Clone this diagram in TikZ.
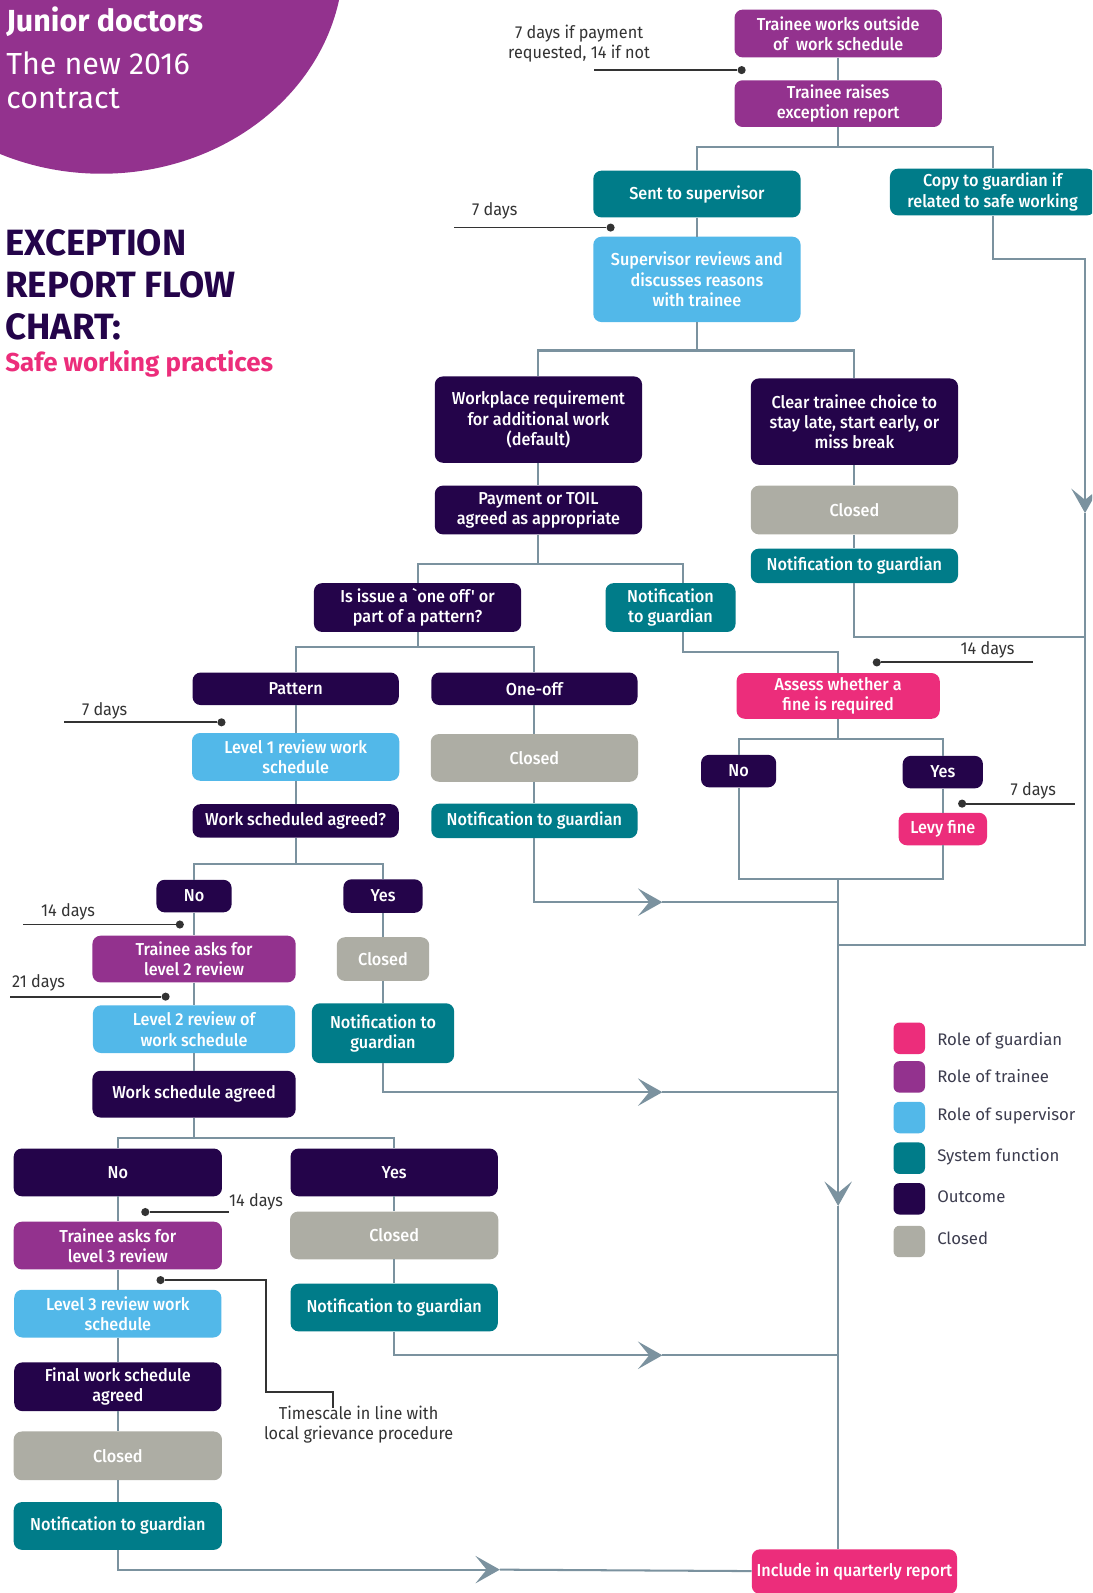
\documentclass[tikz,border=0pt]{standalone}
\usepackage{fontspec}
\setmainfont{Fira Sans}
\newfontfamily\flowfont{Fira Sans}[FakeStretch=0.94, UprightFont={* Medium}]
\newfontfamily\notefont{Fira Sans}[FakeStretch=0.94]
\usetikzlibrary{arrows.meta}

\definecolor{traineecol}{HTML}{93328E}
\definecolor{guardcol}{HTML}{EC2D7B}
\definecolor{supcol}{HTML}{52B8E9}
\definecolor{syscol}{HTML}{007C89}
\definecolor{outcol}{HTML}{24044A}
\definecolor{closedcol}{HTML}{ADADA4}
\definecolor{linkcol}{HTML}{7B929F}
\definecolor{notecol}{HTML}{333333}
\definecolor{legendcol}{HTML}{3D3D4F}

\begin{document}
\begin{tikzpicture}[x=1pt, y=-1pt,
  box/.style={rounded corners=8pt, minimum width=204pt, minimum height=47pt,
    inner sep=1pt, align=center, text=white, font=\flowfont\fontsize{17}{20}\selectfont},
  traineebox/.style={box, fill=traineecol},
  guardbox/.style={box, fill=guardcol},
  supbox/.style={box, fill=supcol},
  sysbox/.style={box, fill=syscol},
  outbox/.style={box, fill=outcol},
  closedbox/.style={box, fill=closedcol},
  link/.style={draw=linkcol, line width=2pt},
  flow/.style={link, -{Stealth[length=24pt, width=27pt, inset=11pt]}},
  note/.style={draw=notecol, line width=1.8pt},
  notedot/.style={circle, fill=notecol, inner sep=0pt, minimum size=8pt},
  notetext/.style={text=notecol, align=center, font=\notefont\fontsize{17}{20}\selectfont},
  legendsq/.style={rounded corners=6pt, minimum size=31pt, inner sep=0pt},
  legendtext/.style={anchor=west, text=legendcol, font=\fontsize{16.5}{19}\selectfont}]

  \useasboundingbox (0,0) rectangle (1075,1568);
  \clip (0,0) rectangle (1075,1568);
  \fill[white] (0,0) rectangle (1075,1568);

  % heading
  \fill[traineecol] (100,-40) ellipse [x radius=238, y radius=211];
  \node[anchor=west, text=white, inner sep=0pt, font=\bfseries\fontsize{30}{36}\selectfont] (title1) at (6,21) {Junior doctors};
  \node[anchor=west, text=white, inner sep=0pt, font=\fontsize{30}{36}\selectfont] (title2) at (6,62) {The new 2016};
  \node[anchor=west, text=white, inner sep=0pt, font=\fontsize{30}{36}\selectfont] (title3) at (6,97) {contract};
  \node[anchor=north west, align=left, text=outcol, inner sep=0pt,
    font=\bfseries\fontsize{36}{41}\selectfont] (head) at (5,226) {EXCEPTION\\REPORT FLOW\\CHART:};
  \node[anchor=west, text=guardcol, inner sep=0pt, font=\bfseries\fontsize{25.5}{30}\selectfont] (sub) at (5,358) {Safe working practices};

  % boxes
  \node[traineebox] (t1) at (825,33) {Trainee works outside\\of~ work schedule};
  \node[traineebox, minimum height=46pt] (t2) at (825,102) {Trainee raises\\exception report};
  \node[sysbox, minimum height=46pt] (s1) at (686,191) {Sent to supervisor};
  \node[sysbox, minimum width=202pt, minimum height=46pt] (g1) at (977,189) {Copy to guardian if\\related to safe working};
  \node[supbox, minimum height=84pt] (sv1) at (686,275) {Supervisor reviews and\\discusses reasons\\with trainee};
  \node[outbox, minimum height=85pt] (o1) at (530,413) {Workplace requirement\\for additional work\\(default)};
  \node[outbox, minimum height=85pt] (o2) at (841,415) {Clear trainee choice to\\stay late, start early, or\\miss break};
  \node[outbox, minimum height=48pt] (o3) at (530,502) {Payment or TOIL\\agreed as appropriate};
  \node[closedbox, minimum height=48pt] (c1) at (841,502) {Closed};
  \node[sysbox, minimum height=34pt] (n1) at (841,557) {Notification to guardian};
  \node[outbox, minimum height=48pt] (o4) at (411,598) {Is issue a `one off' or\\part of a pattern?};
  \node[sysbox, minimum width=128pt, minimum height=48pt] (n2) at (660,598) {Notification\\to guardian};
  \node[guardbox, minimum width=200pt, minimum height=45pt] (a1) at (825,685) {Assess whether a\\fine is required};
  \node[outbox, minimum width=74pt, minimum height=32pt] (no2) at (727,759) {No};
  \node[outbox, minimum width=79pt, minimum height=32pt] (yes2) at (928,760) {Yes};
  \node[guardbox, minimum width=87pt, minimum height=32pt] (l1) at (928,816) {Levy fine};

  \node[outbox, minimum width=203pt, minimum height=32pt] (p1) at (291,678) {Pattern};
  \node[outbox, minimum width=203pt, minimum height=32pt] (oo) at (526,678) {One-off};
  \node[supbox] (sv2) at (291,745) {Level 1 review work\\schedule};
  \node[closedbox] (c2) at (526,746) {Closed};
  \node[outbox, minimum width=203pt, minimum height=33pt] (o5) at (291,808) {Work scheduled agreed?};
  \node[sysbox, minimum width=203pt, minimum height=34pt] (n3) at (526,808) {Notification to guardian};

  \node[outbox, minimum width=74pt, minimum height=32pt] (no3) at (191,882) {No};
  \node[outbox, minimum width=78pt, minimum height=33pt] (yes3) at (377,882) {Yes};
  \node[traineebox, minimum width=200pt, minimum height=46pt] (t3) at (191,944) {Trainee asks for\\level 2 review};
  \node[closedbox, minimum width=91pt, minimum height=43pt] (c3) at (377,944) {Closed};
  \node[supbox, minimum width=199pt] (sv3) at (191,1013) {Level 2 review of\\work schedule};
  \node[sysbox, minimum width=140pt, minimum height=59pt] (n4) at (377,1017) {Notification to\\guardian};
  \node[outbox, minimum width=200pt, minimum height=46pt] (o6) at (191,1077) {Work schedule agreed};

  \node[outbox, minimum width=205pt] (no4) at (116,1154) {No};
  \node[outbox] (yes4) at (388,1154) {Yes};
  \node[traineebox, minimum width=205pt] (t4) at (116,1226) {Trainee asks for\\level 3 review};
  \node[closedbox, minimum width=205pt] (c4) at (388,1216) {Closed};
  \node[supbox] (sv4) at (116,1293) {Level 3 review work\\schedule};
  \node[sysbox] (n5) at (388,1287) {Notification to guardian};
  \node[outbox, minimum height=48pt] (o7) at (116,1365) {Final work schedule\\agreed};
  \node[closedbox, minimum width=205pt, minimum height=48pt] (c5) at (116,1433) {Closed};
  \node[sysbox, minimum width=205pt] (n6) at (116,1502) {Notification to guardian};
  \node[guardbox, minimum width=202pt, minimum height=44pt] (q) at (841,1547) {Include in quarterly report};

  % junctions
  \coordinate (j1) at (825,145);
  \coordinate (j2) at (686,345);
  \coordinate (j3) at (530,555);
  \coordinate (j4) at (825,642);
  \coordinate (j5) at (825,727);
  \coordinate (j6) at (411,637);
  \coordinate (j7) at (291,850);
  \coordinate (j8) at (191,1120);
  \coordinate (cfine) at (825,865);
  \coordinate (carr) at (825,1187);
  \coordinate (rtop) at (1068,255);
  \coordinate (rarr) at (1068,505);
  \coordinate (rjoin) at (1068,627);
  \coordinate (rbot) at (1068,930);
  \coordinate (cjoin) at (825,930);
  \coordinate (a3) at (652,888);
  \coordinate (a4) at (652,1075);
  \coordinate (a5) at (652,1334);
  \coordinate (a6) at (492,1545);

  % connectors
  \draw[link] (t1) -- (t2);
  \draw[link] (t2) -- (j1);
  \draw[link] (s1) |- (j1) -| (g1);
  \draw[link] (s1) -- (sv1);
  \draw[link] (sv1) -- (j2);
  \draw[link] (o1) |- (j2) -| (o2);
  \draw[link] (o1) -- (o3);
  \draw[link] (o2) -- (c1);
  \draw[link] (c1) -- (n1);
  \draw[link] (n1) |- (rjoin);
  \draw[link] (o3) -- (j3);
  \draw[link] (o4) |- (j3) -| ([xshift=12pt]n2.north);
  \draw[link] ([xshift=12pt]n2.south) |- (j4) -- (a1);
  \draw[link] (a1) -- (j5);
  \draw[link] (no2) |- (j5) -| (yes2);
  \draw[link] (yes2) -- (l1);
  \draw[link] (no2) |- (cfine) -| (l1);
  \draw[flow] (cfine) -- (carr);
  \draw[link] (carr) -- (carr |- q.north);

  \draw[flow] (g1) |- (rtop) -- (rarr);
  \draw[link] (rarr) -- (rbot) -- (cjoin);

  \draw[link] (o4) -- (j6);
  \draw[link] (p1) |- (j6) -| (oo);
  \draw[link] (p1) -- (sv2);
  \draw[link] (sv2) -- (o5);
  \draw[link] (oo) -- (c2);
  \draw[link] (c2) -- (n3);
  \draw[flow] (n3) |- (a3);
  \draw[link] (a3) -- (a3 -| cfine);

  \draw[link] (o5) -- (j7);
  \draw[link] (no3) |- (j7) -| (yes3);
  \draw[link] (no3) -- (t3);
  \draw[link] (t3) -- (sv3);
  \draw[link] (sv3) -- (o6);
  \draw[link] (yes3) -- (c3);
  \draw[link] (c3) -- (n4);
  \draw[flow] (n4) |- (a4);
  \draw[link] (a4) -- (a4 -| cfine);

  \draw[link] (o6) -- (j8);
  \draw[link] (no4) |- (j8) -| (yes4);
  \draw[link] (no4) -- (t4);
  \draw[link] (t4) -- (sv4);
  \draw[link] (sv4) -- (o7);
  \draw[link] (o7) -- (c5);
  \draw[link] (c5) -- (n6);
  \draw[link] (yes4) -- (c4);
  \draw[link] (c4) -- (n5);
  \draw[flow] (n5) |- (a5);
  \draw[link] (a5) -- (a5 -| cfine);
  \draw[flow] (n6) |- (a6);
  \draw[link] (a6) -- (q);

  % timescales
  \node[notetext] (lab1) at (570,43) {7 days if payment\\requested, 14 if not};
  \node[notedot] (d1) at (730,69) {};
  \coordinate (e1) at (585,69);
  \draw[note] (e1) -- (d1);

  \node[notetext] (lab2) at (487,208) {7 days};
  \node[notedot] (d2) at (601,224) {};
  \coordinate (e2) at (447,224);
  \draw[note] (e2) -- (d2);

  \node[notetext] (lab3) at (972,640) {14 days};
  \node[notedot] (d3) at (863,652) {};
  \coordinate (e3) at (1017,652);
  \draw[note] (d3) -- (e3);

  \node[notetext] (lab4) at (1017,778) {7 days};
  \node[notedot] (d4) at (947,791) {};
  \coordinate (e4) at (1058,791);
  \draw[note] (d4) -- (e4);

  \node[notetext] (lab5) at (103,700) {7 days};
  \node[notedot] (d5) at (218,711) {};
  \coordinate (e5) at (63,711);
  \draw[note] (e5) -- (d5);

  \node[notetext] (lab6) at (67,898) {14 days};
  \node[notedot] (d6) at (177,910) {};
  \coordinate (e6) at (23,910);
  \draw[note] (e6) -- (d6);

  \node[notetext] (lab7) at (38,967) {21 days};
  \node[notedot] (d7) at (163,981) {};
  \coordinate (e7) at (10,981);
  \draw[note] (e7) -- (d7);

  \node[notetext] (lab8) at (252,1183) {14 days};
  \node[notedot] (d8) at (143,1193) {};
  \coordinate (e8) at (225,1193);
  \draw[note] (d8) -- (e8);

  \node[notetext] (lab9) at (353,1402) {Timescale in line with\\local grievance procedure};
  \node[notedot] (d9) at (158,1260) {};
  \coordinate (k9) at (262,1370);
  \coordinate (e9) at (328,1386);
  \draw[note] (d9) -| (k9) -| (e9);

  % key
  \node[legendsq, fill=guardcol] (lg1) at (895,1022) {};
  \node[legendsq, fill=traineecol] (lg2) at (895,1060) {};
  \node[legendsq, fill=supcol] (lg3) at (895,1100) {};
  \node[legendsq, fill=syscol] (lg4) at (895,1140) {};
  \node[legendsq, fill=outcol] (lg5) at (895,1180) {};
  \node[legendsq, fill=closedcol] (lg6) at (895,1222) {};
  \node[legendtext] (lt1) at (919,1024) {Role of guardian};
  \node[legendtext] (lt2) at (919,1059) {Role of trainee};
  \node[legendtext] (lt3) at (919,1098) {Role of supervisor};
  \node[legendtext] (lt4) at (919,1139) {System function};
  \node[legendtext] (lt5) at (919,1178) {Outcome};
  \node[legendtext] (lt6) at (919,1219) {Closed};
\end{tikzpicture}
\end{document}
